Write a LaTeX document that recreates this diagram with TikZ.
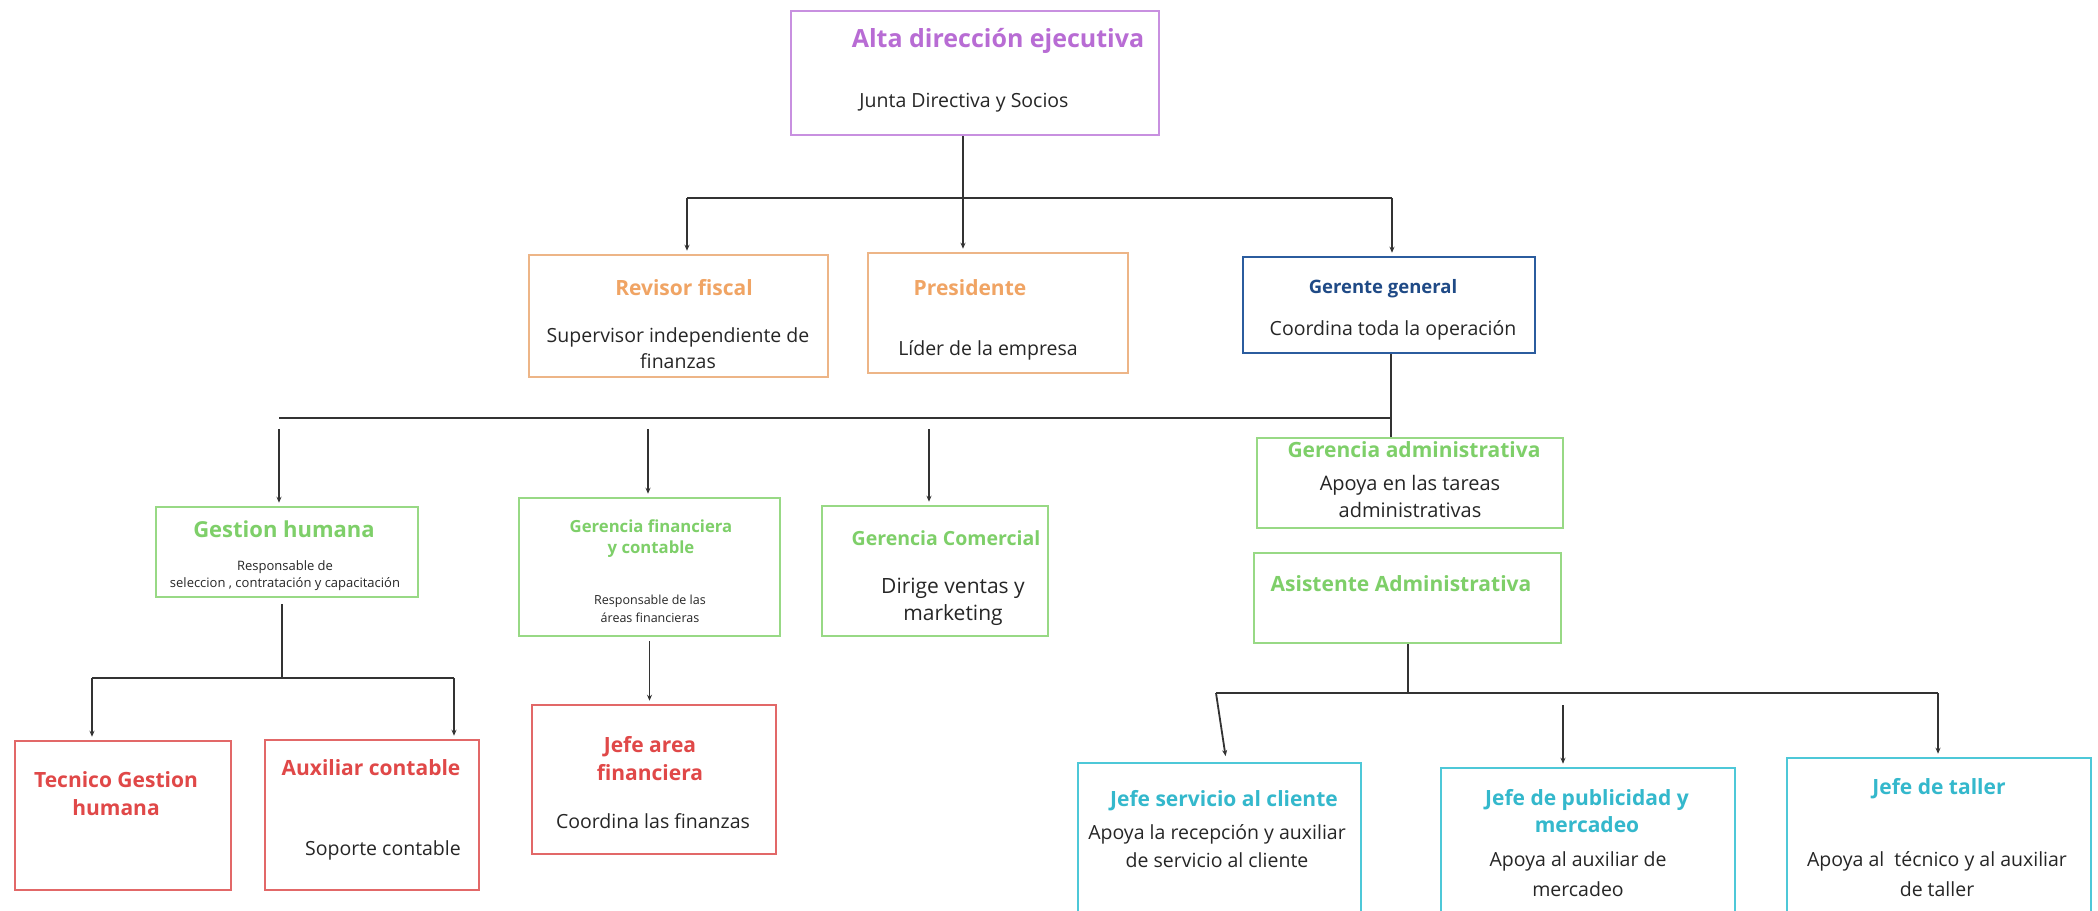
\documentclass[tikz,border=0pt]{standalone}
\usepackage{fontspec}
\setmainfont{Open Sans}
\usetikzlibrary{arrows.meta}
\definecolor{purpleT}{HTML}{B86CD4}
\definecolor{purpleB}{HTML}{C890E0}
\definecolor{orangeT}{HTML}{F0A464}
\definecolor{orangeB}{HTML}{EDB587}
\definecolor{blueT}{HTML}{1F4A86}
\definecolor{blueB}{HTML}{2B5C9E}
\definecolor{greenT}{HTML}{7ECF69}
\definecolor{greenB}{HTML}{98D985}
\definecolor{redT}{HTML}{E04848}
\definecolor{redB}{HTML}{E26868}
\definecolor{cyanT}{HTML}{34B8CC}
\definecolor{cyanB}{HTML}{4EC8D8}
\definecolor{lineC}{HTML}{333333}
\begin{document}
\begin{tikzpicture}[x=1pt,y=-1pt,>={Stealth[length=6pt,width=5pt]}]
    \tikzstyle{box}=[rectangle,draw,line width=2.5pt,inner sep=0pt]
    \tikzstyle{conn}=[draw=lineC,line width=1.8pt]
    \tikzstyle{arr}=[conn,->,shorten >=3pt]
    \tikzstyle{ttl}=[anchor=base,inner sep=0pt,align=center,font=\bfseries\fontsize{21}{28}\selectfont]
    \tikzstyle{txt}=[anchor=base,inner sep=0pt,align=center,text=black!85,font=\fontsize{19.5}{26}\selectfont]

    \useasboundingbox (0,0) rectangle (2098,910);
    \fill[white] (0,0) rectangle (2098,910);
    \clip (0,0) rectangle (2098,910);

    \foreach \n/\cx/\cy/\w/\h/\c in {alta/975/73/368/124/purpleB,
      rev/678.5/316/299/122/orangeB, pres/998/313/260/120/orangeB,
      ger/1389/305/292/96/blueB, gh/287/552/262/90/greenB,
      gfin/649.5/567/261/138/greenB, gcom/935/571/226/130/greenB,
      gadm/1410/483/306/90/greenB, asist/1407.5/598/307/90/greenB,
      tec/123/815.5/216/149/redB, aux/372/815/214/150/redB,
      jafin/654/779.5/244/149/redB, jsc/1219.5/861.5/283/197/cyanB,
      jpub/1588/864/294/192/cyanB, jtal/1939/859/304/202/cyanB}
    \node[box, draw=\c, minimum width=\w, minimum height=\h] (\n) at (\cx,\cy) {};

    \node[ttl, text=purpleT, font=\bfseries\fontsize{25}{30}\selectfont] (alta-t) at (998,47) {Alta dirección ejecutiva};
    \node[txt] (alta-d) at (964,107) {Junta Directiva y Socios};

    \node[ttl, text=orangeT] (rev-t) at (684,295) {Revisor fiscal};
    \node[txt] (rev-d) at (678,368) {Supervisor independiente de\\finanzas};
    \node[ttl, text=orangeT] (pres-t) at (970,295) {Presidente};
    \node[txt] (pres-d) at (988,355) {Líder de la empresa};
    \node[ttl, text=blueT, font=\bfseries\fontsize{18.5}{24}\selectfont] (ger-t) at (1383,293) {Gerente general};
    \node[txt] (ger-d) at (1393,335) {Coordina toda la operación};

    \node[ttl, text=greenT, font=\bfseries\fontsize{22}{28}\selectfont] (gh-t) at (284,537) {Gestion humana};
    \node[txt, font=\fontsize{13}{17}\selectfont] (gh-d) at (285,587) {Responsable de\\seleccion , contratación y capacitación};
    \node[ttl, text=greenT, font=\bfseries\fontsize{16.7}{21}\selectfont] (gfin-t) at (651,553) {Gerencia financiera\\y contable};
    \node[txt, font=\fontsize{12.5}{18}\selectfont] (gfin-d) at (650,622) {Responsable de las\\áreas financieras};
    \node[ttl, text=greenT, font=\bfseries\fontsize{19.5}{26}\selectfont] (gcom-t) at (946,545) {Gerencia Comercial};
    \node[txt, font=\fontsize{21}{27}\selectfont] (gcom-d) at (953,620) {Dirige ventas y\\marketing};
    \node[ttl, text=greenT] (gadm-t) at (1414,457) {Gerencia administrativa};
    \node[txt, font=\fontsize{20}{27}\selectfont] (gadm-d) at (1410,517) {Apoya en las tareas\\administrativas};
    \node[ttl, text=greenT] (asist-t) at (1401,591) {Asistente Administrativa};

    \node[ttl, text=redT] (tec-t) at (116,815) {Tecnico Gestion\\humana};
    \node[ttl, text=redT] (aux-t) at (371,775) {Auxiliar contable};
    \node[txt] (aux-d) at (383,855) {Soporte contable};
    \node[ttl, text=redT] (jafin-t) at (650,780) {Jefe area\\financiera};
    \node[txt] (jafin-d) at (653,828) {Coordina las finanzas};

    \node[ttl, text=cyanT] (jsc-t) at (1224,806) {Jefe servicio al cliente};
    \node[txt, font=\fontsize{19.5}{28}\selectfont] (jsc-d) at (1217,867) {Apoya la recepción y auxiliar\\de servicio al cliente};
    \node[ttl, text=cyanT, font=\bfseries\fontsize{21}{27}\selectfont] (jpub-t) at (1587,832) {Jefe de publicidad y\\mercadeo};
    \node[txt, font=\fontsize{19.5}{30}\selectfont] (jpub-d) at (1578,896) {Apoya al auxiliar de\\mercadeo};
    \node[ttl, text=cyanT] (jtal-t) at (1939,794) {Jefe de taller};
    \node[txt, font=\fontsize{19.5}{30}\selectfont] (jtal-d) at (1937,896) {Apoya al \ técnico y al auxiliar\\de taller};

    \coordinate (b1) at (963,198);
    \coordinate (d-rev) at (687,198);
    \coordinate (d-ger) at (1392,198);
    \draw[conn] (alta.south -| b1) -- (b1);
    \draw[conn] (d-rev) -- (d-ger);
    \draw[arr] (d-rev) -- (d-rev |- rev.north);
    \draw[arr] (b1) -- (b1 |- pres.north);
    \draw[arr] (d-ger) -- (d-ger |- ger.north);

    \coordinate (b2) at (1391,418);
    \coordinate (d-gh) at (279,418);
    \coordinate (d-gfin) at (648,418);
    \coordinate (d-gcom) at (929,418);
    \draw[conn] (ger.south -| b2) -- (gadm.north -| b2);
    \draw[conn] (d-gh) -- (b2);
    \foreach \d in {gh,gfin,gcom}
    \draw[arr, shorten <=11pt] (d-\d) -- (d-\d |- \d.north);

    \coordinate (b3) at (282,678);
    \coordinate (d-tec) at (92,678);
    \coordinate (d-aux) at (454,678);
    \draw[conn, shorten <=6pt] (gh.south -| b3) -- (b3);
    \draw[conn] (d-tec) -- (d-aux);
    \foreach \d in {tec,aux}
    \draw[arr] (d-\d) -- (d-\d |- \d.north);
    \draw[arr, shorten <=4pt] (gfin.south) -- (gfin.south |- jafin.north);

    \coordinate (b4) at (1408,693);
    \coordinate (d-jsc) at (1216,693);
    \coordinate (e-jsc) at (1226,759);
    \coordinate (d-jpub) at (1563,705);
    \coordinate (d-jtal) at (1938,693);
    \draw[conn] (asist.south -| b4) -- (b4);
    \draw[conn] (d-jsc) -- (d-jtal);
    \draw[arr] (d-jsc) -- (e-jsc);
    \draw[arr] (d-jpub) -- (d-jpub |- jpub.north);
    \draw[arr] (d-jtal) -- (d-jtal |- jtal.north);
\end{tikzpicture}
\end{document}
